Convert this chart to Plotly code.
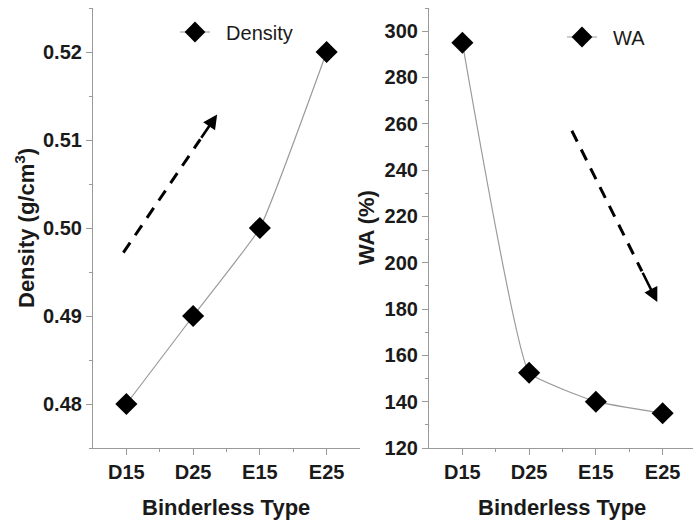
import plotly.graph_objects as go

categories = ["D15", "D25", "E15", "E25"]
density = [0.480, 0.490, 0.500, 0.520]
wa = [295, 152.5, 140, 135]
x_pos = [1, 2, 3, 4]

density_ticks = [0.48, 0.49, 0.50, 0.51, 0.52]
wa_ticks = [120, 140, 160, 180, 200, 220, 240, 260, 280, 300]

# trend arrows (data coords): tail -> tip
arrow_left = dict(x0=0.955, y0=0.4972, x1=2.36, y1=0.5129)
arrow_right = dict(x0=2.64, y0=257.0, x1=3.92, y1=183.0)

W, H = 693, 521
FONT = "Liberation Sans, Arial, sans-serif"
AX = "#9a9a9a"
TXT = "#1a1a1a"

fig = go.Figure()

fig.add_trace(go.Scatter(
    x=x_pos, y=density, name="&nbsp;&nbsp;Density", mode="lines+markers",
    line=dict(color="#9a9a9a", width=1.2, shape="spline", smoothing=0.35),
    marker=dict(symbol="diamond", size=17, color="black"),
    xaxis="x", yaxis="y", legend="legend"))
fig.add_trace(go.Scatter(
    x=x_pos, y=wa, name="&nbsp;&nbsp;WA", mode="lines+markers",
    line=dict(color="#9a9a9a", width=1.2, shape="spline", smoothing=0.3),
    marker=dict(symbol="diamond", size=17, color="black"),
    xaxis="x2", yaxis="y2", legend="legend2"))

def px(v):
    return v / W

common_x = dict(
    tickmode="array", tickvals=x_pos, ticktext=categories,
    showline=True, linecolor=AX, linewidth=1.2, ticks="outside", ticklen=6,
    tickcolor=AX, tickwidth=1.2, showgrid=False, zeroline=False,
    tickfont=dict(family=FONT, size=20, color=TXT, weight="bold"),
    minor=dict(tickmode="array", tickvals=[1.5, 2.5, 3.5], ticks="outside",
               ticklen=3, tickcolor=AX, tickwidth=1, showgrid=False),
)
common_y = dict(
    showline=True, linecolor=AX, linewidth=1.2, ticks="outside", ticklen=6,
    tickcolor=AX, tickwidth=1.2, showgrid=False, zeroline=False,
    tickfont=dict(family=FONT, size=20, color=TXT, weight="bold"),
)

fig.update_layout(
    width=W, height=H,
    margin=dict(l=0, r=0, t=8, b=73),
    paper_bgcolor="white", plot_bgcolor="white",
    font=dict(family=FONT, color=TXT),
    xaxis=dict(domain=[px(93), px(360)], range=[0.5, 4.5], anchor="y", **common_x),
    yaxis=dict(domain=[0, 1], range=[0.475, 0.525], anchor="x",
               tickmode="array", tickvals=density_ticks, tickformat=".2f",
               minor=dict(dtick=0.005, ticks="outside", ticklen=3, tickcolor=AX,
                          tickwidth=1, showgrid=False),
               **common_y),
    xaxis2=dict(domain=[px(429), 1.0], range=[0.5, 4.455], anchor="y2", **common_x),
    yaxis2=dict(domain=[0, 1], range=[120, 310], anchor="x2",
                tickmode="array", tickvals=wa_ticks,
                minor=dict(dtick=10, ticks="outside", ticklen=3, tickcolor=AX,
                           tickwidth=1, showgrid=False),
                **common_y),
    legend=dict(x=px(175), y=1 - (32 - 8) / 440, xanchor="left", yanchor="middle",
                bgcolor="rgba(0,0,0,0)", itemwidth=30,
                font=dict(family=FONT, size=20, color=TXT)),
    legend2=dict(x=px(562), y=1 - (37 - 8) / 440, xanchor="left", yanchor="middle",
                 bgcolor="rgba(0,0,0,0)", itemwidth=30,
                 font=dict(family=FONT, size=20, color=TXT)),
    showlegend=True,
)

# axis titles
title_font = dict(family=FONT, size=22, color=TXT, weight="bold")
fig.add_annotation(text="Binderless Type", xref="paper", yref="paper",
                   x=px(226), y=-(507 - 448) / 440, showarrow=False,
                   font=title_font, xanchor="center", yanchor="middle")
fig.add_annotation(text="Binderless Type", xref="paper", yref="paper",
                   x=px(562), y=-(508 - 448) / 440, showarrow=False,
                   font=title_font, xanchor="center", yanchor="middle")
fig.add_annotation(text="Density (g/cm<sup>3</sup>)", xref="paper", yref="paper",
                   x=px(25), y=0.5, showarrow=False, textangle=-90,
                   font=title_font, xanchor="center", yanchor="middle")
fig.add_annotation(text="WA (%)", xref="paper", yref="paper",
                   x=px(366), y=0.5, showarrow=False, textangle=-90,
                   font=title_font, xanchor="center", yanchor="middle")

# dashed trend arrows
def add_arrow(a, xr, yr):
    fx = 0.82
    mx = a["x0"] + (a["x1"] - a["x0"]) * fx
    my = a["y0"] + (a["y1"] - a["y0"]) * fx
    fig.add_shape(type="line", xref=xr, yref=yr,
                  x0=a["x0"], y0=a["y0"], x1=mx, y1=my,
                  line=dict(color="black", width=3, dash="12px,9px"))
    fig.add_annotation(xref=xr, yref=yr, axref=xr, ayref=yr,
                       x=a["x1"], y=a["y1"], ax=mx, ay=my, text="",
                       showarrow=True, arrowhead=2, arrowsize=1.1,
                       arrowwidth=2.6, arrowcolor="black")

add_arrow(arrow_left, "x", "y")
add_arrow(arrow_right, "x2", "y2")

fig.write_html("out.html", config={"displayModeBar": False},
               post_script="document.body.style.margin='0';document.body.style.overflow='hidden';")
